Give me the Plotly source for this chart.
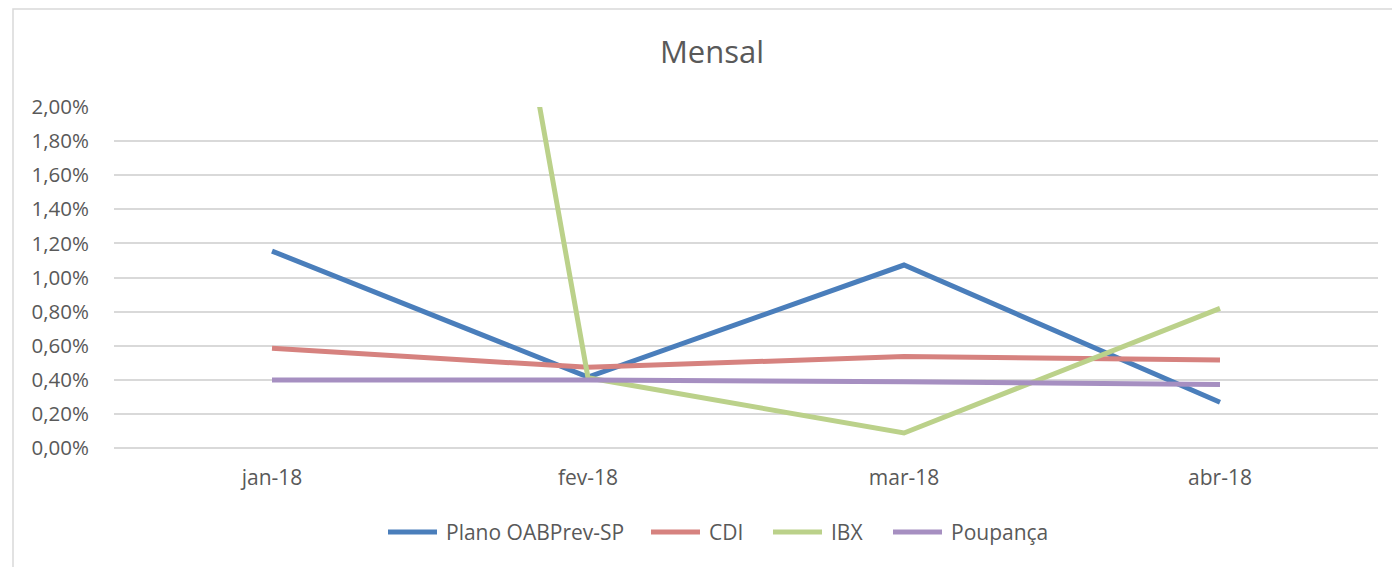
import plotly.graph_objects as go

categories = ["jan-18", "fev-18", "mar-18", "abr-18"]
plano = [0.01155, 0.00416, 0.01073, 0.00268]
cdi = [0.00585, 0.00473, 0.00536, 0.00516]
ibx = [0.1080, 0.00412, 0.00088, 0.00819]
poupanca = [0.00399, 0.00399, 0.00389, 0.00373]

series = [
    ("Plano OABPrev-SP", plano, "#4A7EBB"),
    ("CDI", cdi, "#D6827F"),
    ("IBX", ibx, "#BBD18A"),
    ("Poupança", poupanca, "#A68FC1"),
]

FONT = "Open Sans, Liberation Sans, sans-serif"
TXT = "#595959"
GRID = "#D9D9D9"

# figure geometry (page has an 8px body margin)
W, H = 1392, 559
ML, MR, MT, MB = 106, 22, 99, 119
PW, PH = W - ML - MR, H - MT - MB


def px(x):  # viewport pixel -> paper x
    return (x - 8 - ML) / PW


def py(y):  # viewport pixel -> paper y
    return (H - MB - (y - 8)) / PH


fig = go.Figure()
for name, vals, color in series:
    fig.add_trace(go.Scatter(
        x=categories, y=vals, name=name, mode="lines",
        line=dict(color=color, width=5), showlegend=False,
    ))

# legend drawn as layout items (line sample + label)
legend_x = [386, 649, 771, 891]
legend_y = 532
line_len = 53
shapes = [dict(type="rect", xref="paper", yref="paper",
               x0=px(13), x1=1.05, y0=-0.5, y1=py(9),
               line=dict(color=GRID, width=1.5), fillcolor="rgba(0,0,0,0)", layer="below")]
annotations = []
for (name, _, color), lx in zip(series, legend_x):
    shapes.append(dict(type="line", xref="paper", yref="paper",
                       x0=px(lx + 2), x1=px(lx + line_len - 2), y0=py(legend_y), y1=py(legend_y),
                       line=dict(color=color, width=5)))
    annotations.append(dict(text=name, xref="paper", yref="paper",
                            x=px(lx + line_len + 5), y=py(legend_y), xanchor="left", yanchor="middle",
                            showarrow=False, font=dict(family=FONT, size=21, color=TXT)))

fig.update_layout(
    width=W, height=H,
    paper_bgcolor="white", plot_bgcolor="white",
    margin=dict(l=ML, r=MR, t=MT, b=MB),
    separators=",.",
    title=dict(text="Mensal", x=(712 - 8) / W, xanchor="center", y=1 - (52 - 8) / H, yanchor="middle",
               xref="container", yref="container",
               font=dict(family=FONT, size=31, color=TXT)),
    showlegend=False,
    xaxis=dict(type="category", range=[-0.5, 3.5], showgrid=False, zeroline=False,
               showline=False, ticks="", ticklabelstandoff=15,
               tickfont=dict(family=FONT, size=21, color=TXT)),
    yaxis=dict(range=[0, 0.02], dtick=0.002, tick0=0, tickformat=".2%",
               showgrid=True, gridcolor=GRID, gridwidth=1.5,
               zeroline=True, zerolinecolor=GRID, zerolinewidth=1.5,
               showline=False, ticks="", ticklabelstandoff=24,
               tickfont=dict(family=FONT, size=20.5, color=TXT)),
    shapes=shapes,
    annotations=annotations,
)

fig.write_html("out.html")
